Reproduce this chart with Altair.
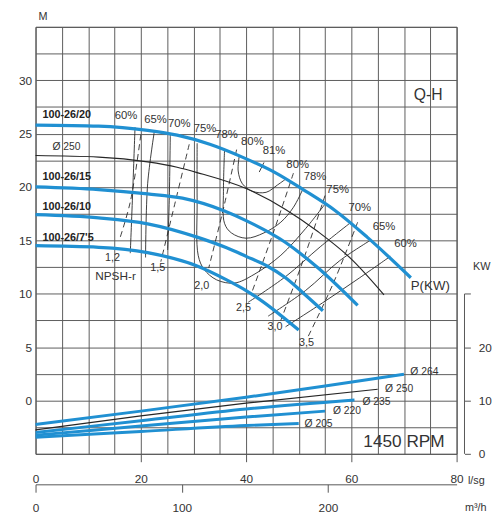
import altair as alt
import pandas as pd

BLUE = "#2090d2"
INK = "#262626"
FONT = "Liberation Sans"

# ---------------- Q-H curves (Q in l/s, H in m) ----------------
QH_264_Q = [0, 12, 21.3, 26.9, 33.1, 39.5, 45.7, 50.7, 56.9, 63.0, 71.3]
QH_264_H = [25.8, 25.7, 25.3, 24.85, 24.0, 22.75, 21.3, 19.8, 17.8, 15.3, 11.5]
QH_250_Q = [0, 12, 21.3, 26.9, 30.7, 40.0, 47.5, 53.7, 60.1, 66.2]
QH_250_H = [22.95, 22.8, 22.35, 21.85, 21.35, 19.85, 17.9, 15.8, 13.2, 9.9]
QH_235_Q = [0, 12, 21.3, 27.9, 35.9, 40.0, 47.5, 53.7, 61.2]
QH_235_H = [20.0, 19.75, 19.35, 18.95, 17.75, 16.85, 14.8, 12.4, 8.9]
QH_220_Q = [0, 12, 21.3, 30.7, 36.3, 40.0, 44.0, 47.5, 51.0, 54.6]
QH_220_H = [17.4, 17.1, 16.55, 15.3, 14.3, 13.5, 12.6, 11.5, 10.0, 8.4]
QH_205_Q = [0, 12, 21.3, 30.7, 36.3, 40.0, 42.5, 50.0]
QH_205_H = [14.5, 14.35, 13.85, 12.6, 11.3, 10.3, 9.5, 6.6]

# ---------------- iso-efficiency lines ----------------
EFF_60L_Q = [18.9, 18.5, 18.0]
EFF_60L_H = [25.6, 20.1, 13.8]
EFF_65L_Q = [22.6, 21.3, 20.9]
EFF_65L_H = [25.3, 20.3, 13.4]
EFF_70L_Q = [25.6, 25.4, 25.1]
EFF_70L_H = [24.9, 18.7, 14.1]
EFF_75_Q = [30.7, 30.7, 30.9, 32.0, 34.4, 37.8, 41.5, 46.6, 51.3, 55.0]
EFF_75_H = [24.1, 18.7, 13.6, 12.3, 11.3, 11.0, 11.8, 13.6, 16.1, 18.4]
EFF_78_Q = [35.9, 35.7, 35.9, 37.2, 40.0, 43.4, 46.6, 49.0, 50.7]
EFF_78_H = [23.4, 19.6, 16.6, 15.7, 15.2, 15.7, 16.7, 18.1, 19.7]
EFF_80_Q = [38.7, 38.5, 39.3, 41.2, 43.8, 46.0, 47.7]
EFF_80_H = [22.9, 21.5, 20.3, 19.6, 19.5, 20.2, 20.8]
EFF_81_Q = [42.5, 43.4]
EFF_81_H = [21.4, 22.3]
EFF_70R_Q = [40.4, 47.5, 54.1, 59.7]
EFF_70R_H = [9.2, 11.6, 14.4, 16.6]
EFF_65R_Q = [44.2, 51.3, 57.8, 63.6]
EFF_65R_H = [7.9, 10.3, 13.1, 15.0]
EFF_60R_Q = [47.5, 55.0, 61.6, 67.4]
EFF_60R_H = [6.9, 9.3, 11.5, 13.5]

# ---------------- NPSH-r lines ----------------
NPSH_12_Q = [20.0, 18.0, 15.9]
NPSH_12_H = [24.9, 18.6, 15.0]
NPSH_15_Q = [29.2, 26.6, 23.8]
NPSH_15_H = [24.0, 18.7, 13.0]
NPSH_20_Q = [38.2, 35.9, 32.9]
NPSH_20_H = [23.5, 18.4, 12.4]
NPSH_25_Q = [49.0, 45.3, 41.0]
NPSH_25_H = [21.3, 15.9, 10.0]
NPSH_30_Q = [55.0, 50.9, 46.6]
NPSH_30_H = [19.2, 13.2, 7.5]
NPSH_35_Q = [61.2, 56.5, 51.6]
NPSH_35_H = [16.7, 10.9, 5.8]

# ---------------- power curves (Q in l/s, P in kW) ----------------
P_264_Q = [0, 20, 40, 55, 70.0]
P_264_KW = [5.5, 8.0, 10.6, 12.7, 14.9]
P_250_Q = [0, 20, 40, 65.0]
P_250_KW = [4.5, 7.1, 9.5, 12.1]
P_235_Q = [0, 20, 40, 60.6]
P_235_KW = [4.0, 6.2, 8.4, 10.1]
P_220_Q = [0, 20, 40, 55.0]
P_220_KW = [3.5, 5.2, 6.9, 8.0]
P_205_Q = [0, 20, 40, 50.0]
P_205_KW = [3.1, 4.2, 5.3, 5.7]

P_LBL_TEXT = ["Ø 264", "Ø 250", "Ø 235", "Ø 220", "Ø 205"]
P_LBL_Q = [71.2, 66.4, 62.1, 56.5, 51.1]
P_LBL_KW = [15.4, 12.1, 9.7, 8.0, 5.6]

# ---------------- text labels ----------------
MODEL_TEXT = ["100-26/20", "100-26/15", "100-26/10", "100-26/7'5"]
MODEL_Q = [1.3, 1.3, 1.3, 1.3]
MODEL_H = [26.7, 20.9, 18.1, 15.2]

EFF_TXT = ["60%", "65%", "70%", "75%", "78%", "80%", "81%",
           "80%", "78%", "75%", "70%", "65%", "60%"]
EFF_TXT_Q = [17.2, 22.8, 27.3, 32.2, 36.3, 41.2, 45.3, 49.8, 53.1, 57.4, 61.6, 66.2, 70.3]
EFF_TXT_H = [26.6, 26.3, 25.9, 25.4, 24.9, 24.2, 23.4, 22.1, 20.9, 19.7, 18.0, 16.2, 14.7]

NPSH_TXT = ["1,2", "1,5", "2,0", "2,5", "3,0", "3,5"]
NPSH_TXT_Q = [14.6, 23.2, 31.6, 39.5, 45.5, 51.5]
NPSH_TXT_H = [13.3, 12.4, 10.7, 8.7, 6.9, 5.4]

BIG_TEXT = ["Q-H", "P(KW)", "1450 RPM", "NPSH-r"]
BIG_Q = [74.6, 75.0, 70.0, 15.2]
BIG_H = [28.6, 10.7, -3.9, 11.7]
BIG_SIZE = [16, 13.5, 17.5, 12]

D250_TEXT = ["Ø 250"]
D250_Q = [3.2]
D250_H = [23.7]

M3H_ENDS = [0, 288]
KW_AXIS_SPAN = [0, 30]


def lines_df(curves, ycol="h"):
    rows = []
    for name, (qs, ys) in curves.items():
        for i, (q, y) in enumerate(zip(qs, ys)):
            rows.append({"curve": name, "i": i, "q": q, ycol: y})
    return pd.DataFrame(rows)


blue_df = lines_df({"264": (QH_264_Q, QH_264_H), "235": (QH_235_Q, QH_235_H),
                    "220": (QH_220_Q, QH_220_H), "205": (QH_205_Q, QH_205_H)})
black_df = lines_df({"250": (QH_250_Q, QH_250_H)})
eff_df = lines_df({"60L": (EFF_60L_Q, EFF_60L_H), "65L": (EFF_65L_Q, EFF_65L_H),
                   "70L": (EFF_70L_Q, EFF_70L_H), "75": (EFF_75_Q, EFF_75_H),
                   "78": (EFF_78_Q, EFF_78_H), "80": (EFF_80_Q, EFF_80_H),
                   "81": (EFF_81_Q, EFF_81_H), "70R": (EFF_70R_Q, EFF_70R_H),
                   "65R": (EFF_65R_Q, EFF_65R_H), "60R": (EFF_60R_Q, EFF_60R_H)})
npsh_df = lines_df({"12": (NPSH_12_Q, NPSH_12_H), "15": (NPSH_15_Q, NPSH_15_H),
                    "20": (NPSH_20_Q, NPSH_20_H), "25": (NPSH_25_Q, NPSH_25_H),
                    "30": (NPSH_30_Q, NPSH_30_H), "35": (NPSH_35_Q, NPSH_35_H)})
pblue_df = lines_df({"264": (P_264_Q, P_264_KW), "235": (P_235_Q, P_235_KW),
                     "220": (P_220_Q, P_220_KW), "205": (P_205_Q, P_205_KW)}, ycol="kw")
pblack_df = lines_df({"250": (P_250_Q, P_250_KW)}, ycol="kw")

model_df = pd.DataFrame({"q": MODEL_Q, "h": MODEL_H, "t": MODEL_TEXT})
eff_txt_df = pd.DataFrame({"q": EFF_TXT_Q, "h": EFF_TXT_H, "t": EFF_TXT})
npsh_txt_df = pd.DataFrame({"q": NPSH_TXT_Q, "h": NPSH_TXT_H, "t": NPSH_TXT})
big_df = pd.DataFrame({"q": BIG_Q, "h": BIG_H, "t": BIG_TEXT, "s": BIG_SIZE})
d250_df = pd.DataFrame({"q": D250_Q, "h": D250_H, "t": D250_TEXT})
plbl_df = pd.DataFrame({"q": P_LBL_Q, "kw": P_LBL_KW, "t": P_LBL_TEXT})
m3h_df = pd.DataFrame({"m3h": M3H_ENDS})
kwspan_df = pd.DataFrame({"a": [KW_AXIS_SPAN[0]], "b": [KW_AXIS_SPAN[1]]})

W, H = 428, 434
GRID = "#5c5c5c"

x_axis = alt.Axis(values=list(range(0, 81, 5)), grid=True, gridColor=GRID, gridWidth=1,
                  labelExpr="datum.value % 20 == 0 ? datum.label : ''",
                  tickOpacity={"condition": {"test": "datum.value % 20 == 0 && datum.value > 0",
                                             "value": 1}, "value": 0},
                  tickSize=8, tickColor="#555", domain=False, labelFlush=False, labelOverlap=False,
                  labelFontSize=12, labelPadding=12, labelColor="#333",
                  title="l/sg", titleX=439, titleY=27, titleAlign="left", titleBaseline="middle",
                  titleAngle=0, titleFontSize=11, titleFontWeight="normal", titleColor="#333")
y_axis = alt.Axis(values=[v * 2.5 for v in range(-2, 15)], grid=True, gridColor=GRID, gridWidth=1,
                  labelExpr="(datum.value % 5 == 0 && datum.value >= 0 && datum.value <= 30) ? datum.label : ''",
                  ticks=False, tickSize=0, domain=False, labelFlush=False, labelOverlap=False,
                  labelFontSize=12, labelPadding=4, labelColor="#333",
                  title="M", titleX=7, titleY=-10, titleAlign="center", titleBaseline="middle",
                  titleAngle=0, titleFontSize=11, titleFontWeight="normal", titleColor="#333")

X = alt.X("q:Q", scale=alt.Scale(domain=[0, 80], nice=False, zero=False), axis=x_axis)
Y = alt.Y("h:Q", scale=alt.Scale(domain=[-5, 35], nice=False, zero=False), axis=y_axis)

blue = alt.Chart(blue_df).mark_line(color=BLUE, strokeWidth=3.3, interpolate="monotone").encode(
    x=X, y=Y, detail="curve:N", order="i:Q")
black = alt.Chart(black_df).mark_line(color=INK, strokeWidth=1.2, interpolate="monotone").encode(
    x=X, y=Y, detail="curve:N", order="i:Q")
eff = alt.Chart(eff_df).mark_line(color=INK, strokeWidth=0.9, interpolate="catmull-rom").encode(
    x=X, y=Y, detail="curve:N", order="i:Q")
npsh = alt.Chart(npsh_df).mark_line(color=INK, strokeWidth=0.9, strokeDash=[6, 4],
                                    interpolate="catmull-rom").encode(
    x=X, y=Y, detail="curve:N", order="i:Q")

models = alt.Chart(model_df).mark_text(font=FONT, fontSize=11, fontWeight="bold", align="left",
                                       baseline="middle", color="#222").encode(x=X, y=Y, text="t:N")
eff_txt = alt.Chart(eff_txt_df).mark_text(font=FONT, fontSize=11.5, align="center",
                                          baseline="middle", color="#333").encode(x=X, y=Y, text="t:N")
npsh_txt = alt.Chart(npsh_txt_df).mark_text(font=FONT, fontSize=11, align="center",
                                            baseline="middle", color="#333").encode(x=X, y=Y, text="t:N")
big_txt = alt.Chart(big_df).mark_text(font=FONT, baseline="middle", align="center",
                                      color="#333").encode(
    x=X, y=Y, text="t:N", size=alt.Size("s:Q", scale=None, legend=None))
d250_txt = alt.Chart(d250_df).mark_text(font=FONT, fontSize=10.5, align="left", baseline="middle",
                                        color="#333").encode(x=X, y=Y, text="t:N")

main = alt.layer(eff, npsh, black, blue, models, eff_txt, npsh_txt, big_txt, d250_txt)

# power group with right axis
XP = alt.X("q:Q", scale=alt.Scale(domain=[0, 80], nice=False, zero=False), axis=None)
kw_axis = alt.Axis(orient="right", offset=8, values=[0, 10, 20, 30],
                   labelExpr="datum.value < 30 ? datum.label : ''",
                   grid=False, domain=False, tickSize=6, tickColor="#555", labelPadding=8,
                   labelFontSize=12, labelColor="#333", labelFlush=False,
                   title="KW", titleAngle=0, titleX=17, titleY=244, titleAlign="center",
                   titleBaseline="middle", titleFontSize=11, titleFontWeight="normal", titleColor="#333")
YP = alt.Y("kw:Q", scale=alt.Scale(domain=[0, 80], nice=False, zero=False), axis=kw_axis)

pblue = alt.Chart(pblue_df).mark_line(color=BLUE, strokeWidth=3, interpolate="monotone").encode(
    x=XP, y=YP, detail="curve:N", order="i:Q")
pblack = alt.Chart(pblack_df).mark_line(color=INK, strokeWidth=1.2, interpolate="monotone").encode(
    x=XP, y=YP, detail="curve:N", order="i:Q")
plbl = alt.Chart(plbl_df).mark_text(font=FONT, fontSize=10.5, align="left", baseline="middle",
                                    color="#333").encode(x=XP, y=YP, text="t:N")
kwrule = alt.Chart(kwspan_df).mark_rule(color="#555", strokeWidth=1).encode(
    x=alt.value(W + 8),
    y=alt.Y("a:Q", scale=alt.Scale(domain=[0, 80], nice=False, zero=False), axis=kw_axis),
    y2="b:Q")
power = alt.layer(pblue, pblack, plbl, kwrule)

# m3/h axis
m3h = alt.Chart(m3h_df).mark_point(opacity=0).encode(
    x=alt.X("m3h:Q", scale=alt.Scale(domain=[0, 288], nice=False, zero=False),
            axis=alt.Axis(orient="bottom", offset=31, values=[0, 100, 200], grid=False,
                          domain=True, domainColor="#555", tickColor="#555", tickSize=8,
                          labelPadding=11, labelFontSize=12, labelColor="#333", labelFlush=False,
                          title="m³/h", titleX=436, titleY=24, titleAlign="left",
                          titleBaseline="middle", titleAngle=0, titleFontSize=11,
                          titleFontWeight="normal", titleColor="#333")),
    y=alt.value(0))

chart = alt.layer(main, power, m3h).resolve_scale(
    x="independent", y="independent").properties(
    width=W, height=H, autosize=alt.AutoSizeParams(type="none"),
    padding={"left": 28, "top": 15, "right": 38, "bottom": 58}
).configure_view(stroke="#444", strokeWidth=1).configure_axis(
    labelFont=FONT, titleFont=FONT).configure_text(font=FONT)

chart.save("out.html", embed_options={"renderer": "svg", "actions": False})
